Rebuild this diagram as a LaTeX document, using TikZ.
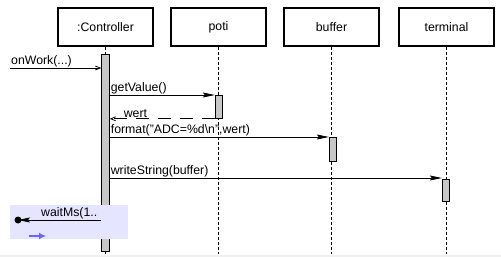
\documentclass[tikz,border=0pt]{standalone}
\usepackage{fontspec}
\setmainfont{Liberation Sans}
\usetikzlibrary{arrows.meta,positioning}

\tikzset{
  objbox/.style={draw,line width=1.3pt,minimum width=95pt,minimum height=38pt,inner sep=0pt},
  actbar/.style={draw,line width=0.8pt,fill=black!22,minimum width=7.5pt,inner sep=0pt,anchor=north},
  lifeline/.style={densely dashed,line width=0.8pt},
  msgtext/.style={anchor=south west,inner sep=1pt},
  callmsg/.style={line width=0.8pt,-{Stealth[length=12pt,width=5pt,inset=2pt]}},
  replymsg/.style={line width=0.8pt,dash pattern=on 13pt off 9pt,-{Straight Barb[length=5pt,width=4pt]}},
  asyncmsg/.style={line width=0.8pt,-{Straight Barb[length=5pt,width=4pt]}},
}

\begin{document}
\begin{tikzpicture}[x=1pt,y=-1pt,font=\fontsize{12.3}{14}\selectfont]
  \useasboundingbox (0,0) rectangle (501,257);
  \fill[black!6] (0,255) rectangle (501,257);

  % objects
  \node[objbox] (ctrl) at (105.5,27) {:Controller};
  \node[objbox] (poti) at (218.5,27) {poti};
  \node[objbox] (buf)  at (331.5,27) {buffer};
  \node[objbox] (term) at (446.5,27) {terminal};

  % lifelines
  \foreach \obj in {ctrl,poti,buf,term}
    \draw[lifeline] (\obj.south) -- (\obj.south |- 0,254);

  % activations
  \node[actbar,minimum height=197pt] (actC) at (105.5,54) {};
  \node[actbar,minimum height=23pt]  (actP) at (219,95) {};
  \node[actbar,minimum height=24pt]  (actB) at (333,137) {};
  \node[actbar,minimum height=22pt]  (actT) at (446,179) {};

  % incoming call
  \coordinate (in) at (10,68);
  \draw[asyncmsg] (in) -- (actC.west |- in);
  \node[msgtext] at (in) {onWork(...)};

  % getValue
  \draw[callmsg] (actC.east |- actP.north) -- (actP.north west);
  \node[msgtext] at (actC.east |- actP.north) {getValue()};
  \draw[replymsg] (actP.south west) -- (actC.east |- actP.south);
  \node[msgtext] at ([xshift=13pt]actC.east |- actP.south) {wert};

  % format
  \draw[callmsg] (actC.east |- actB.north) -- (actB.north west);
  \node[msgtext] at (actC.east |- actB.north) {format("ADC=\%d\textbackslash n",wert)};

  % writeString
  \draw[callmsg] (actC.east |- 0,178) -- (actT.north west |- 0,178);
  \node[msgtext] at (actC.east |- 0,178) {writeString(buffer)};

  % waitMs
  \fill[blue!10] (10,205) rectangle (128,239);
  \fill (18,220) circle (3.5pt) coordinate (lost);
  \draw[callmsg] (actC.west |- lost) -- (lost);
  \node[msgtext] at (40,220) {waitMs(1..};
  \draw[blue!60,line width=2pt,-{Latex[length=7pt,width=7pt]}] (29,236) -- (46,236);
\end{tikzpicture}
\end{document}
